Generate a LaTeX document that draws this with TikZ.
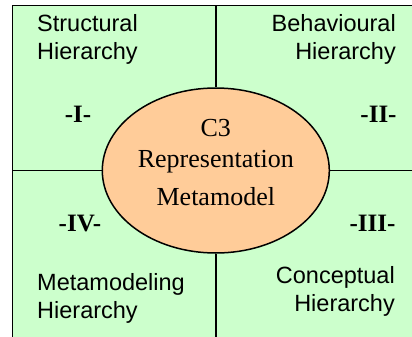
\documentclass[tikz,border=0pt]{standalone}
\usepackage{fontspec}
\setmainfont{Liberation Serif}
\setsansfont{Liberation Sans}
\usepackage{tikz}
\usetikzlibrary{positioning,shapes.geometric}
\definecolor{quadg}{HTML}{CCFFCC}
\definecolor{corec}{HTML}{FFCC99}
\tikzset{
  box/.style={draw=black,line width=1.5pt,fill=quadg},
  sep/.style={draw=black,line width=1.5pt},
  core/.style={ellipse,draw=black,line width=1.5pt,fill=corec,minimum width=227pt,minimum height=165pt,inner sep=0pt},
  lbl/.style={font=\sffamily\fontsize{23.5}{28}\selectfont,inner sep=0pt},
  num/.style={font=\bfseries\fontsize{25}{30}\selectfont,inner sep=0pt},
  ctxt/.style={font=\fontsize{26}{30.6}\selectfont,align=center,inner sep=0pt}
}
\begin{document}
\begin{tikzpicture}[x=1pt,y=-1pt]
\useasboundingbox (0,0) rectangle (412,337);
\clip (0,0) rectangle (412,337);
\draw[box] (12.5,5.5) coordinate (tl) rectangle (440,360) coordinate (br);
\node[core] (core) at (215.8,170.5) {};
% quadrant separators
\coordinate (ntop) at (core.north |- tl);
\coordinate (nbot) at (core.south |- br);
\coordinate (wl) at (tl |- core.west);
\coordinate (er) at (br |- core.east);
\draw[sep] (ntop) -- (core.north) (core.south) -- (nbot);
\draw[sep] (wl) -- (core.west) (core.east) -- (er);
\node[ctxt,anchor=base] (ctxt) at (215.8,205) {C3\\Representation\\[7pt]Metamodel};
% quadrant labels
\node[lbl,align=left,anchor=base west] (strc) at (37,59.3) {Structural\\Hierarchy};
\node[lbl,align=right,anchor=base east] (behv) at (396,59.3) {Behavioural\\Hierarchy};
\node[lbl,align=right,anchor=base east] (conc) at (395,311.7) {Conceptual\\Hierarchy};
\node[lbl,align=left,anchor=base west] (meta) at (37,318) {Metamodeling\\Hierarchy};
\foreach \n/\x/\y/\t in {n1/78/122.5/{-I-},n2/378.5/122.5/{-II-},n3/372.5/231.7/{-III-},n4/80/231.7/{-IV-}}
  \node[num,anchor=base] (\n) at (\x,\y) {\t};
\end{tikzpicture}
\end{document}
